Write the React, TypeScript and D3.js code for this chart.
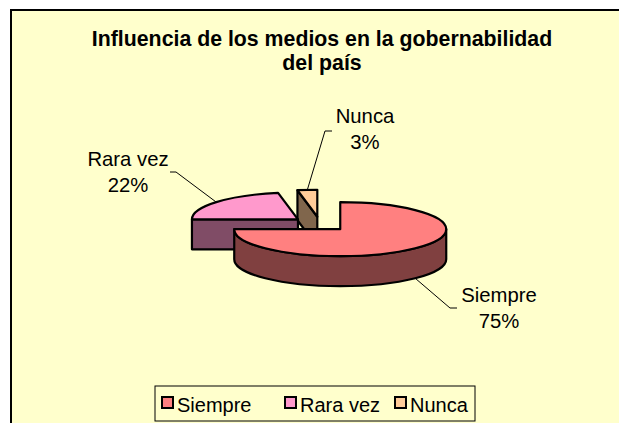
import React from "react";
import * as d3 from "d3";

const categories = ["Siempre", "Rara vez", "Nunca"];
const values = [75, 22, 3];
const topColors = ["#FF8080", "#FF99CC", "#FFCC99"];
const sideColors = ["#804040", "#804C66", "#80664C"];
const titleLines = ["Influencia de los medios en la gobernabilidad", "del país"];

// layout
const W = 619, H = 423;
const O = { x: 320, y: 224 };
const RX = 106, RY = 27, DEPTH = 30, EXPLODE = 0.27;
const FONT = "'Liberation Sans', Arial, sans-serif";
// label layout: text center x, first baseline y, leader knee and end
const labelLayout: Record<string, { x: number; y: number; knee: [number, number]; end: [number, number] }> = {
  "Siempre": { x: 499, y: 302, knee: [450, 308], end: [457, 308] },
  "Rara vez": { x: 128, y: 166, knee: [176, 172], end: [170, 172] },
  "Nunca": { x: 365, y: 123, knee: [325, 131], end: [332, 131] },
};
const legendX = [162, 285, 395];

export default function App() {
  const pie = d3.pie<number>().sort(null).startAngle(0).endAngle(2 * Math.PI);
  const arcs = pie(values);
  const total = d3.sum(values);

  const slices = arcs.map((a, i) => {
    const mid = (a.startAngle + a.endAngle) / 2;
    const cx = O.x + EXPLODE * RX * Math.sin(mid);
    const cy = O.y - EXPLODE * RY * Math.cos(mid);
    const pt = (t: number, d = 0): [number, number] => [cx + RX * Math.sin(t), cy - RY * Math.cos(t) + d];
    const a0 = a.startAngle, a1 = a.endAngle;
    const large = a1 - a0 > Math.PI ? 1 : 0;
    const p0 = pt(a0), p1 = pt(a1);
    const top = `M${cx},${cy}L${p0[0]},${p0[1]}A${RX},${RY} 0 ${large} 1 ${p1[0]},${p1[1]}Z`;
    const sides: string[] = [];
    const radial = (t: number) => {
      const p = pt(t);
      return `M${cx},${cy}L${p[0]},${p[1]}L${p[0]},${p[1] + DEPTH}L${cx},${cy + DEPTH}Z`;
    };
    const norm = (t: number) => ((t % (2 * Math.PI)) + 2 * Math.PI) % (2 * Math.PI);
    const s0 = norm(a0);
    if (s0 > Math.PI + 1e-6 && s0 < 2 * Math.PI - 1e-6) sides.push(radial(a0));
    const e0 = norm(a1);
    if (e0 > 1e-6 && e0 < Math.PI - 1e-6) sides.push(radial(a1));
    const cs = Math.max(a0, Math.PI / 2), ce = Math.min(a1, 1.5 * Math.PI);
    if (ce - cs > 1e-6) {
      const t0 = pt(cs), t1 = pt(ce), b0 = pt(cs, DEPTH), b1 = pt(ce, DEPTH);
      const lg = ce - cs > Math.PI ? 1 : 0;
      sides.push(`M${t0[0]},${t0[1]}A${RX},${RY} 0 ${lg} 1 ${t1[0]},${t1[1]}L${b1[0]},${b1[1]}A${RX},${RY} 0 ${lg} 0 ${b0[0]},${b0[1]}Z`);
    }
    const front = Math.cos(mid) < 0;
    const lead = pt(mid, front ? DEPTH : 0);
    return { i, top, sides, lead, mid };
  });

  const order = [...slices].sort((p, q) => -Math.cos(p.mid) - -Math.cos(q.mid));

  return (
    <svg width={W} height={H} style={{ position: "absolute", left: 0, top: 0 }} fontFamily={FONT}>
      <rect x={0} y={0} width={W} height={H} fill="#FFFFFF" />
      <rect x={11} y={10} width={W + 10} height={H + 10} fill="#FFFFCC" stroke="#000" strokeWidth={2} />
      {titleLines.map((t, k) => (
        <text key={k} x={322} y={46 + k * 24} textAnchor="middle" fontWeight="bold" fontSize={21.3} fill="#000">{t}</text>
      ))}
      {order.map((s) => (
        <g key={s.i} stroke="#000" strokeWidth={2.2} strokeLinejoin="round">
          {s.sides.map((d, k) => (
            <path key={k} d={d} fill={sideColors[s.i]} />
          ))}
          <path d={s.top} fill={topColors[s.i]} />
        </g>
      ))}
      {slices.map((s) => {
        const name = categories[s.i];
        const L = labelLayout[name];
        const pct = Math.round((values[s.i] / total) * 100);
        return (
          <g key={"l" + s.i}>
            <polyline points={`${s.lead[0]},${s.lead[1]} ${L.knee[0]},${L.knee[1]} ${L.end[0]},${L.end[1]}`} fill="none" stroke="#000" strokeWidth={1} />
            <text x={L.x} y={L.y} textAnchor="middle" fontSize={20.3} fill="#000">{name}</text>
            <text x={L.x} y={L.y + 26} textAnchor="middle" fontSize={20.3} fill="#000">{pct}%</text>
          </g>
        );
      })}
      <rect x={155} y={386} width={320} height={35} fill="#FFFFCC" stroke="#000" strokeWidth={1} />
      {categories.map((c, i) => (
        <g key={"lg" + i}>
          <rect x={legendX[i]} y={397} width={11} height={11} fill={topColors[i]} stroke="#000" strokeWidth={2} />
          <text x={legendX[i] + 15} y={412} fontSize={20} fill="#000">{c}</text>
        </g>
      ))}
    </svg>
  );
}
